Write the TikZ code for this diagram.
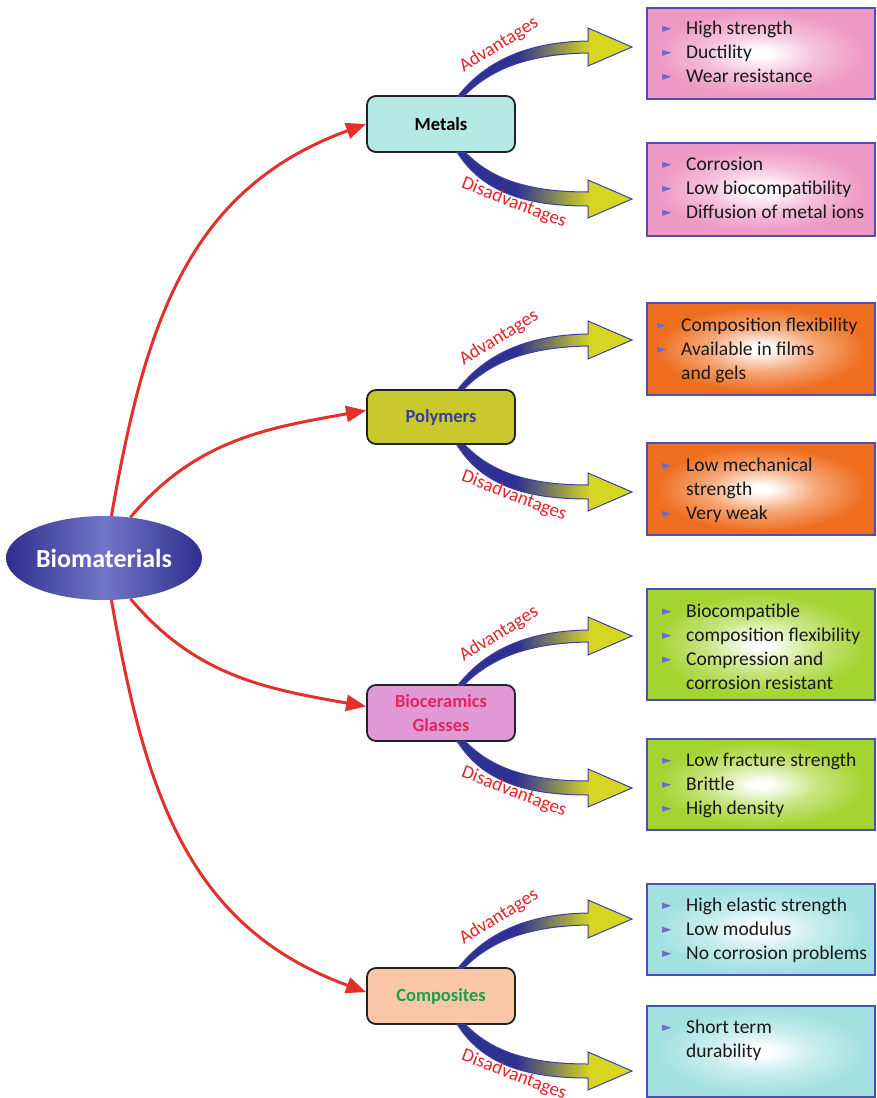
\documentclass[tikz,border=0pt]{standalone}
\usepackage{fontspec}
\setmainfont{Carlito}
\newfontfamily\symf{DejaVu Sans}
\usetikzlibrary{arrows.meta,shapes.geometric}
\definecolor{bioDark}{HTML}{2D2F8E}
\definecolor{bioLight}{HTML}{7276C6}
\definecolor{redc}{HTML}{E2302A}
\definecolor{lblred}{HTML}{E3232A}
\definecolor{farblue}{HTML}{2E3192}
\definecolor{faryel}{HTML}{D6D622}
\definecolor{farline}{HTML}{3C3FA0}
\definecolor{metalfill}{HTML}{B5E9E6}
\definecolor{polyfill}{HTML}{C9C92E}
\definecolor{cerfill}{HTML}{E098D6}
\definecolor{compfill}{HTML}{FBC7A9}
\definecolor{polytext}{HTML}{3D3D9E}
\definecolor{certext}{HTML}{E5245C}
\definecolor{comptext}{HTML}{18A04B}
\definecolor{rborder}{HTML}{4B4FAE}
\definecolor{pinkc}{HTML}{EE98C4}
\definecolor{orangec}{HTML}{EF6E20}
\definecolor{greenc}{HTML}{A4D431}
\definecolor{cyanc}{HTML}{A3E1E1}
\definecolor{bulc}{HTML}{6C6CCC}
\definecolor{tboxline}{HTML}{222222}
\colorlet{bx}{white}
\pgfdeclareradialshading[bx]{glow}{\pgfpoint{0bp}{0bp}}{color(0bp)=(white); color(2bp)=(white); color(12bp)=(bx!60!white); color(23bp)=(bx); color(50bp)=(bx)}
\pgfdeclarehorizontalshading{fatshade}{100bp}{color(0bp)=(farblue); color(42bp)=(farblue); color(63bp)=(faryel); color(100bp)=(faryel)}
\newcommand{\bl}{\makebox[24pt][l]{\symf\fontsize{12.5}{12}\selectfont\color{bulc}\raisebox{2pt}{►}}}
\newcommand{\nb}{\makebox[24pt][l]{}}
\newcommand{\fatarrows}[1]{%
  \begin{scope}[shift={(#1.center)}]
    \shadedraw[fatarr] (17,-28) .. controls (44,-62) and (84,-82) .. (147,-83) -- (147,-96) -- (191,-77) -- (147,-58) -- (147,-71) .. controls (89,-70) and (51,-56) .. (23,-28) -- cycle;
    \shadedraw[fatarr] (24,28) .. controls (51,56) and (89,68) .. (147,68) -- (147,56) -- (191,75) -- (147,94) -- (147,82) .. controls (84,82) and (41,68) .. (16,28) -- cycle;
    \node[lbl, rotate=32] (#1adv) at (58,-79) {Advantages};
    \node[lbl, rotate=-21] (#1dis) at (73,79) {Disadvantages};
  \end{scope}}
\tikzset{
  glowbox/.style={/utils/exec={\colorlet{bx}{#1}}, shade, shading=glow},
  tbox/.style={draw=tboxline, line width=1.8pt, rounded corners=9pt, minimum width=148pt, minimum height=56pt, inner sep=0pt, font=\fontsize{18.5}{24}\selectfont\bfseries, align=center},
  rbox/.style={draw=rborder, line width=1.8pt, minimum width=228pt, inner sep=0pt, glowbox=#1},
  rtext/.style={anchor=west, inner sep=0pt, font=\fontsize{19.5}{24}\selectfont, text=black!90},
  lbl/.style={text=lblred, font=\fontsize{19}{22}\selectfont, inner sep=0pt},
  fatarr/.style={shading=fatshade, draw=farline, line width=1pt},
  redarr/.style={draw=redc, line width=3pt, -{Triangle[length=20pt,width=16pt]}}
}
\begin{document}
\begin{tikzpicture}[x=1pt,y=-1pt]
\useasboundingbox (0,0) rectangle (876,1098);
% central ellipse
\node[ellipse, minimum width=196pt, minimum height=84pt, inner sep=0pt, left color=bioDark, right color=bioDark, middle color=bioLight, text=white, font=\fontsize{26}{30}\selectfont\bfseries] (biom) at (104,558) {Biomaterials};
% material boxes
\node[tbox, fill=metalfill, text=black] (metals) at (441,124) {Metals};
\node[tbox, fill=polyfill, text=polytext, minimum height=54pt] (polymers) at (441,417) {Polymers};
\node[tbox, fill=cerfill, text=certext] (ceramics) at (441,713) {Bioceramics\\Glasses};
\node[tbox, fill=compfill, text=comptext] (composites) at (441,996) {Composites};
% red connectors
\draw[redarr] (biom.80) to[out=80, in=200, looseness=1.05] (metals.west);
\draw[redarr] (biom.57) to[out=50, in=190] (polymers.175);
\draw[redarr] (biom.-57) to[out=-50, in=170] (ceramics.175);
\draw[redarr] (biom.-80) to[out=-80, in=160, looseness=1.05] (composites.177);
% fat arrows and labels
\fatarrows{metals}
\fatarrows{polymers}
\fatarrows{ceramics}
\fatarrows{composites}
% right boxes
\node[rbox=pinkc, minimum height=91pt] (madv) at (761,53.5) {};
\node[rbox=pinkc, minimum height=93pt] (mdis) at (761,189.5) {};
\node[rbox=orangec, minimum height=92pt] (padv) at (761,349) {};
\node[rbox=orangec, minimum height=92pt] (pdis) at (761,489) {};
\node[rbox=greenc, minimum height=111pt] (badv) at (761,644.5) {};
\node[rbox=greenc, minimum height=91pt] (bdis) at (761,784.5) {};
\node[rbox=cyanc, minimum height=91pt] (cadv) at (761,929.5) {};
\node[rbox=cyanc, minimum height=91pt] (cdis) at (761,1051.5) {};
% texts
\node[rtext] (madvt) at (662,54) {\begin{tabular}{@{}l@{}}\bl High strength\\ \bl Ductility\\ \bl Wear resistance\end{tabular}};
\node[rtext] (mdist) at (662,190) {\begin{tabular}{@{}l@{}}\bl Corrosion\\ \bl Low biocompatibility\\ \bl Diffusion of metal ions\end{tabular}};
\node[rtext] (padvt) at (657,351) {\begin{tabular}{@{}l@{}}\bl Composition flexibility\\ \bl Available in films\\ \nb and gels\end{tabular}};
\node[rtext] (pdist) at (662,491) {\begin{tabular}{@{}l@{}}\bl Low mechanical\\ \nb strength\\ \bl Very weak\end{tabular}};
\node[rtext] (badvt) at (662,648.5) {\begin{tabular}{@{}l@{}}\bl Biocompatible\\ \bl composition flexibility\\ \bl Compression and\\ \nb corrosion resistant\end{tabular}};
\node[rtext] (bdist) at (662,786) {\begin{tabular}{@{}l@{}}\bl Low fracture strength\\ \bl Brittle\\ \bl High density\end{tabular}};
\node[rtext] (cadvt) at (662,931) {\begin{tabular}{@{}l@{}}\bl High elastic strength\\ \bl Low modulus\\ \bl No corrosion problems\end{tabular}};
\node[rtext, anchor=north west] (cdist) at (662,1016) {\begin{tabular}{@{}l@{}}\bl Short term\\ \nb durability\end{tabular}};
\end{tikzpicture}
\end{document}
